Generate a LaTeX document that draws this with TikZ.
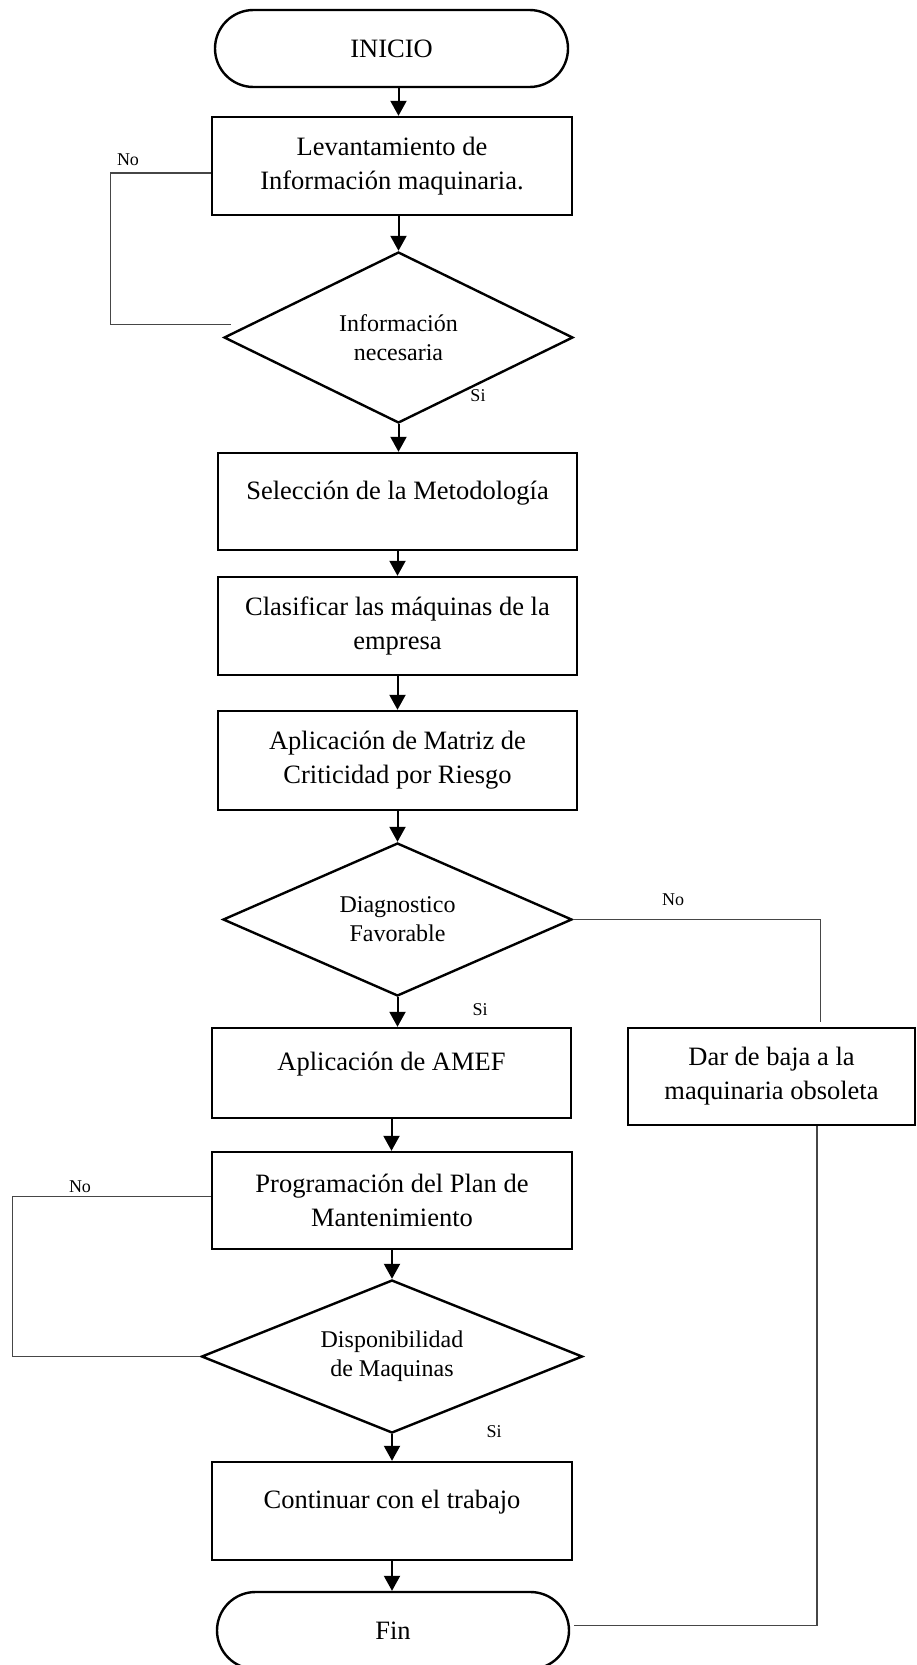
\documentclass[tikz,border=0pt]{standalone}
\usepackage{fontspec}
\setmainfont{Liberation Serif}
\usepackage{tikz}
\usetikzlibrary{shapes.geometric, shapes.misc, arrows.meta, positioning, calc}
\definecolor{lgris}{RGB}{70,70,70}

\tikzset{
    caja/.style={draw, line width=2.4pt, rectangle, inner sep=0pt, minimum width=360pt, minimum height=98pt, align=center, font=\fontsize{26.5}{34}\selectfont},
    unalinea/.style={text depth=23pt},
    decision/.style={draw, line width=2.4pt, diamond, aspect=2, inner sep=0pt, align=center, font=\fontsize{24}{29}\selectfont},
    terminal/.style={draw, line width=2.4pt, rounded rectangle, inner sep=0pt, minimum width=353pt, minimum height=77pt, font=\fontsize{26.5}{34}\selectfont},
    flecha/.style={line width=2pt, -{Triangle[width=16pt,length=15pt]}},
    lazo/.style={draw=lgris, line width=1.2pt},
    etiq/.style={inner sep=0pt, font=\fontsize{18}{20}\selectfont}
}

\begin{document}
\begin{tikzpicture}[x=1pt, y=1pt]
    \useasboundingbox (0,0) rectangle (916,-1665);

    % bloques
    \node[terminal] (inicio) at (391.5,-48.5) {INICIO};
    \node[caja] (levant) at (392,-166) {Levantamiento de\\Información maquinaria.};
    \node[decision, minimum width=349pt, minimum height=171pt] (info) at (398.5,-337.5) {Información\\necesaria};
    \node[caja, unalinea, minimum width=359pt, minimum height=97pt] (selec) at (397.5,-501.5) {Selección de la Metodología};
    \node[caja, minimum width=359pt] (clasif) at (397.5,-626) {Clasificar las máquinas de la\\empresa};
    \node[caja, minimum width=359pt, minimum height=99pt] (matriz) at (397.5,-760.5) {Aplicación de Matriz de\\Criticidad por Riesgo};
    \node[decision, minimum width=349pt, minimum height=153pt] (diag) at (397.5,-919.5) {Diagnostico\\Favorable};
    \node[caja, unalinea, minimum width=359pt, minimum height=90pt] (amef) at (391.5,-1073) {Aplicación de AMEF};
    \node[caja, minimum width=287pt, minimum height=97pt] (baja) at (771.5,-1076.5) {Dar de baja a la\\maquinaria obsoleta};
    \node[caja, minimum height=97pt] (prog) at (392,-1200.5) {Programación del Plan de\\Mantenimiento};
    \node[decision, minimum width=381pt, minimum height=153pt] (disp) at (392,-1356.5) {Disponibilidad\\de Maquinas};
    \node[caja, unalinea] (cont) at (392,-1511) {Continuar con el trabajo};
    \node[terminal, minimum width=352pt] (fin) at (393,-1630.5) {Fin};

    % flechas
    \draw[flecha] (inicio.south -| info.north) -- (levant.north -| info.north);
    \draw[flecha] (levant.south -| info.north) -- (info.north);
    \draw[flecha] (info.south) -- (selec.north -| info.south);
    \draw[flecha] (selec.south) -- (clasif.north);
    \draw[flecha] (clasif.south) -- (matriz.north);
    \draw[flecha] (matriz.south) -- (diag.north);
    \draw[flecha] (diag.south) -- (amef.north -| diag.south);
    \draw[flecha] (amef.south) -- (prog.north -| amef.south);
    \draw[flecha] (prog.south) -- (disp.north);
    \draw[flecha] (disp.south) -- (cont.north);
    \draw[flecha] (cont.south) -- (fin.north -| cont.south);

    % retornos
    \draw[lazo] ([yshift=-7pt]levant.west) -- ++(-100pt,0) |- ([xshift=8pt,yshift=13pt]info.west);
    \draw[lazo] (diag.east) -| ([xshift=49pt,yshift=5pt]baja.north);
    \draw[lazo] ([xshift=45.5pt]baja.south) |- ([xshift=4pt,yshift=5pt]fin.east);
    \draw[lazo] ([yshift=4pt]prog.west) -- ++(-198pt,0) |- (disp.west);

    % etiquetas
    \node[etiq] (no1) at (128,-160) {No};
    \node[etiq] (si1) at (478,-396) {Si};
    \node[etiq] (no2) at (673,-900) {No};
    \node[etiq] (si2) at (480,-1010) {Si};
    \node[etiq] (no3) at (80,-1187) {No};
    \node[etiq] (si3) at (494,-1432) {Si};
\end{tikzpicture}
\end{document}
